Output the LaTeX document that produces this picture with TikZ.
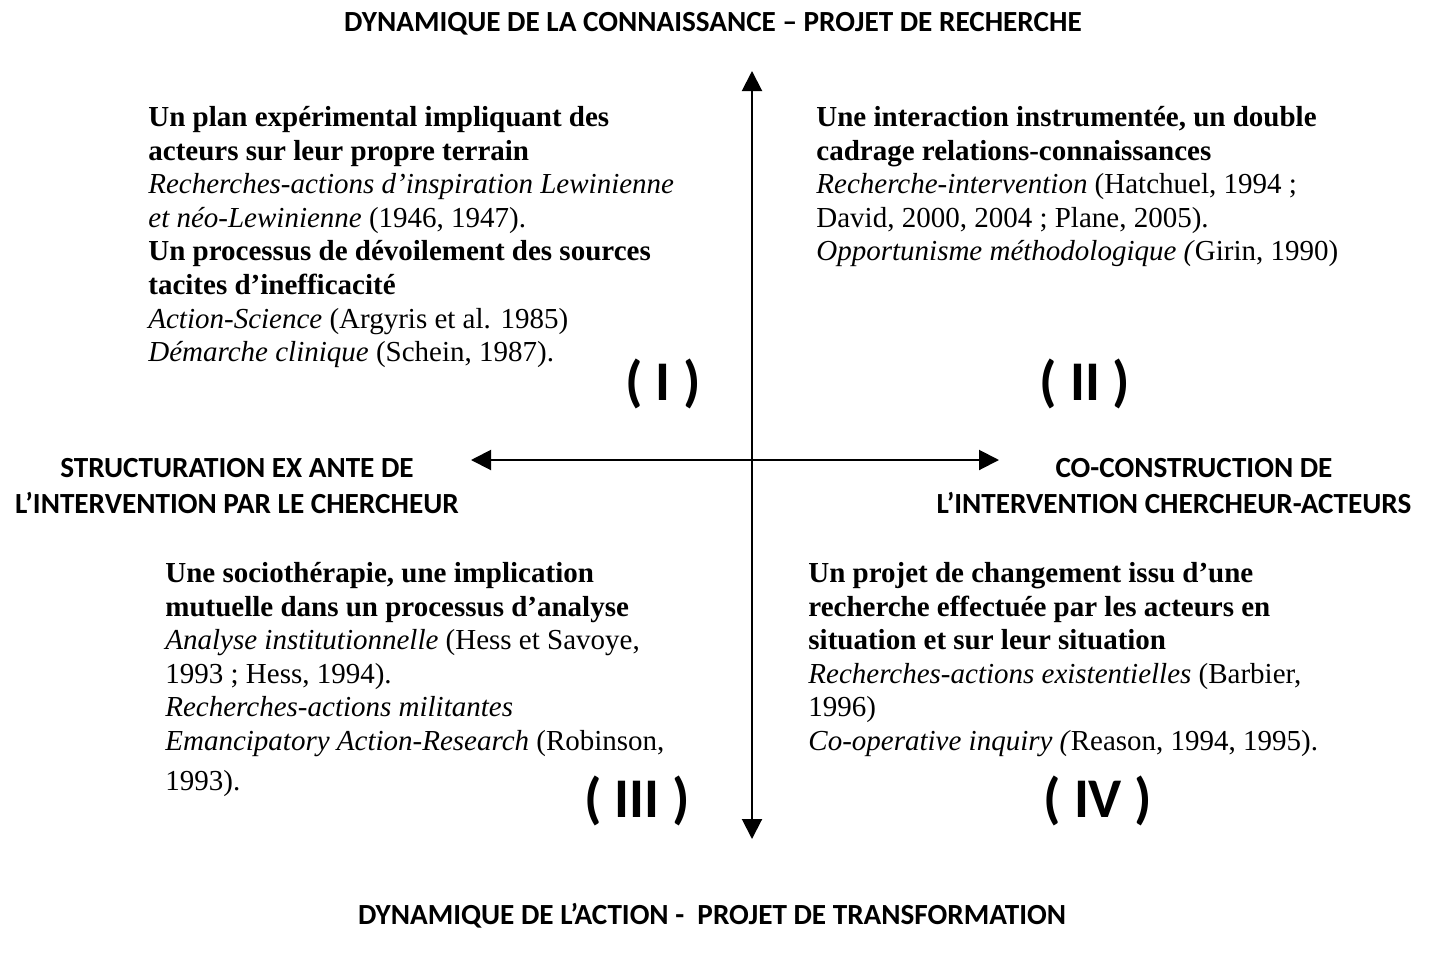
\documentclass[tikz,border=0pt]{standalone}
\usepackage{fontspec}
\setmainfont{Liberation Serif}
\newfontfamily\headfont{Carlito}
\usetikzlibrary{arrows.meta}

\begin{document}
\begin{tikzpicture}[x=0.5pt,y=-0.5pt,
        axe/.style={line width=1pt,{Triangle[length=10pt,width=10pt]}-{Triangle[length=10pt,width=10pt]}},
        titre/.style={font=\headfont\bfseries\fontsize{14.6}{18}\selectfont,align=center,inner sep=0pt},
        quadrant/.style={font=\headfont\bfseries\fontsize{28}{30}\selectfont,inner sep=0pt},
        bloc/.style={anchor=north west,align=left,inner sep=0pt,font=\fontsize{14.5}{16.8}\selectfont}]
        \useasboundingbox (0,0) rectangle (1430,954);

        % axes
        \coordinate (haut) at (752,71);
        \coordinate (bas) at (752,839);
        \coordinate (gauche) at (471,460);
        \coordinate (droite) at (999,460);
        \draw[axe] (bas) -- (haut);
        \draw[axe] (gauche) -- (droite);

        % titres des axes
        \node[titre] (connaissance) at (713,24) {DYNAMIQUE DE LA CONNAISSANCE – PROJET DE RECHERCHE};
        \node[titre] (action) at (712,916) {DYNAMIQUE DE L’ACTION -\ \ PROJET DE TRANSFORMATION};
        \node[titre] (structuration) at (237,486) {STRUCTURATION EX ANTE DE\\L’INTERVENTION PAR LE CHERCHEUR};
        \node[titre] (coconstruction) at (1174,486) {\hspace*{20pt}CO-CONSTRUCTION DE\\L’INTERVENTION CHERCHEUR-ACTEURS};

        % quadrants
        \node[quadrant] (q1) at (663,384) {( I )};
        \node[quadrant] (q2) at (1085,384) {( II )};
        \node[quadrant] (q3) at (637,801) {( III )};
        \node[quadrant] (q4) at (1098,801) {( IV )};

        \node[bloc] (t1) at (148,106) {\textbf{Un plan expérimental impliquant des}\\
                \textbf{acteurs sur leur propre terrain}\\
                \textit{Recherches-actions d'inspiration Lewinienne}\\
                \textit{et néo-Lewinienne} (1946, 1947).\\
                \textbf{Un processus de dévoilement des sources}\\
                \textbf{tacites d'inefficacité}\\
                \textit{Action-Science} (Argyris et al. 1985)\\
                \textit{Démarche clinique} (Schein, 1987).};
        \node[bloc] (t2) at (816,106) {\textbf{Une interaction instrumentée, un double}\\
                \textbf{cadrage relations-connaissances}\\
                \textit{Recherche-intervention} (Hatchuel, 1994 ;\\
                David, 2000, 2004 ; Plane, 2005).\\
                \textit{Opportunisme méthodologique (}Girin, 1990)};
        \node[bloc] (t3) at (165,562) {\textbf{Une sociothérapie, une implication}\\
                \textbf{mutuelle dans un processus d'analyse}\\
                \textit{Analyse institutionnelle} (Hess et Savoye,\\
                1993 ; Hess, 1994).\\
                \textit{Recherches-actions militantes}\\
                \textit{Emancipatory Action-Research} (Robinson,\\[3pt]
                1993).};
        \node[bloc] (t4) at (808,562) {\textbf{Un projet de changement issu d'une}\\
                \textbf{recherche effectuée par les acteurs en}\\
                \textbf{situation et sur leur situation}\\
                \textit{Recherches-actions existentielles} (Barbier,\\
                1996)\\
                \textit{Co-operative inquiry (}Reason, 1994, 1995).};
\end{tikzpicture}
\end{document}
